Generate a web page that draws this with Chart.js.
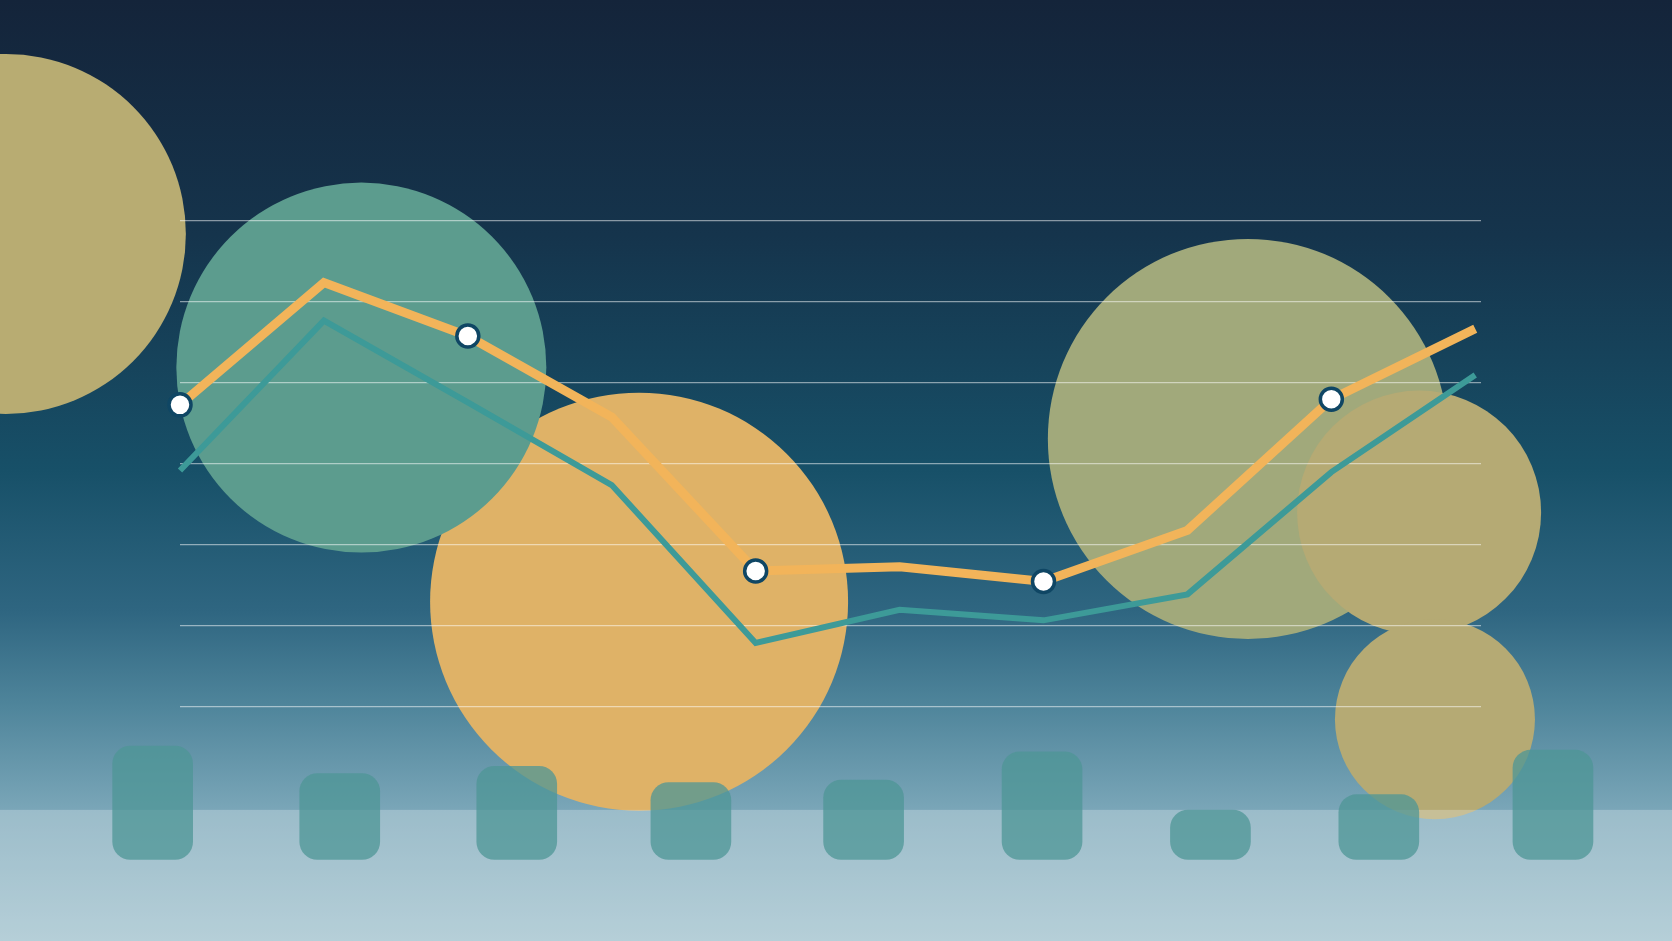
<!DOCTYPE html>
<html lang="en">
<head>
<meta charset="utf-8">
<title>Bubbles, lines and bars</title>
<script src="https://cdn.jsdelivr.net/npm/chart.js@4.4.1/dist/chart.umd.min.js"></script>
<style>
    html, body { margin: 0; padding: 0; overflow: hidden; }
    body {
        width: 1672px;
        height: 941px;
        position: relative;
        background: linear-gradient(to bottom,
            #14243a 0px, #15344c 235px, #175068 470px, #2f6681 612px,
            #4f859b 706px, #7aa6b8 810px, #9dbfcb 941px);
    }
    canvas { position: absolute; left: 0; top: 0; }
</style>
</head>
<body>
<canvas id="chartBubbles" width="1672" height="941"></canvas>
<canvas id="chartLines" width="1672" height="941"></canvas>
<script>
// ============================================
// Data
// ============================================

// Two line series, one value per step (0..9)
const orangeSeries = [37.3, 52.4, 45.8, 35.8, 16.8, 17.3, 15.5, 21.8, 38.0, 46.7];
const tealSeries = [29.2, 47.7, 37.6, 27.4, 7.9, 12.0, 10.7, 13.9, 29.0, 41.0];

// Bars along the bottom (position on the step axis, height)
const barPositions = [-0.19, 1.11, 2.34, 3.55, 4.75, 5.99, 7.16, 8.33, 9.54];
const barValues = [14.0, 10.6, 11.5, 9.5, 9.8, 13.3, 6.1, 8.0, 13.5];

// Background bubbles
const bubbleX = [-1.52, -1.21, 3.19, 1.26, 7.42, 8.61, 8.72];
const bubbleY = [54.3, 58.4, 13.0, 41.9, 33.1, 24.0, -1.5];
const bubbleSize = [163, 180, 209, 185, 200, 122, 100];

// Value where the light lower band starts
const BAND_FROM = -12.7;

// ============================================
// Styles
// ============================================

const COLORS = {
    orange: '#f2b45a',
    teal: '#3d9a98',
    marker: '#ffffff',
    markerBorder: '#0f4664',
    bar: 'rgba(77, 150, 150, 0.75)',
    grid: 'rgba(255, 255, 255, 0.5)',
    band: 'rgba(255, 255, 255, 0.25)',
    bubbles: ['#5b9b8c', '#b8ac72', '#dfb267', '#5c9c8e', '#a1a97b', '#b5aa74', '#b5aa74']
};

// same plot area on both layers, no auto padding so the scales line up
const LAYOUT = {
    autoPadding: false,
    padding: { left: 180, right: 191, top: 221, bottom: 234 }
};

function stepAxis() {
    return { type: 'linear', min: 0, max: 9.04, offset: false, display: false };
}

// ============================================
// Back layer: bubbles + light band
// ============================================

const bandPlugin = {
    id: 'lightBand',
    afterDatasetsDraw(chart) {
        const top = chart.scales.y.getPixelForValue(BAND_FROM);
        const c = chart.ctx;
        c.save();
        c.fillStyle = COLORS.band;
        c.fillRect(0, top, chart.width, chart.height - top);
        c.restore();
    }
};

function createBubbleChart(canvasId) {
    const ctx = document.getElementById(canvasId);
    if (!ctx) return null;

    return new Chart(ctx, {
        type: 'bubble',
        data: {
            datasets: [{
                data: bubbleX.map((x, i) => ({ x: x, y: bubbleY[i], r: bubbleSize[i] })),
                backgroundColor: COLORS.bubbles,
                borderWidth: 0,
                clip: false
            }]
        },
        options: {
            responsive: false,
            animation: false,
            events: [],
            layout: LAYOUT,
            plugins: { legend: { display: false }, tooltip: { enabled: false } },
            scales: {
                x: stepAxis(),
                y: { type: 'linear', min: 0, max: 60, display: false }
            }
        },
        plugins: [bandPlugin]
    });
}

// ============================================
// Front layer: grid, bars and lines
// ============================================

function createLineChart(canvasId) {
    const ctx = document.getElementById(canvasId);
    if (!ctx) return null;

    return new Chart(ctx, {
        type: 'line',
        data: {
            datasets: [
                {
                    label: 'Orange',
                    data: orangeSeries.map((v, i) => ({ x: i, y: v })),
                    borderColor: COLORS.orange,
                    borderWidth: 9,
                    tension: 0,
                    pointRadius: c => (c.dataIndex % 2 === 0 ? 11 : 0),
                    pointBackgroundColor: COLORS.marker,
                    pointBorderColor: COLORS.markerBorder,
                    pointBorderWidth: 3.5,
                    clip: false,
                    order: 0
                },
                {
                    label: 'Teal',
                    data: tealSeries.map((v, i) => ({ x: i, y: v })),
                    borderColor: COLORS.teal,
                    borderWidth: 6,
                    tension: 0,
                    pointRadius: 0,
                    clip: false,
                    order: 1
                },
                {
                    type: 'bar',
                    label: 'Bars',
                    data: barPositions.map((x, i) => ({ x: x, y: barValues[i] })),
                    yAxisID: 'yBar',
                    base: 0,
                    backgroundColor: COLORS.bar,
                    borderWidth: 0,
                    borderRadius: 18,
                    borderSkipped: false,
                    barThickness: 80,
                    clip: false,
                    order: 2
                }
            ]
        },
        options: {
            responsive: false,
            animation: false,
            events: [],
            layout: LAYOUT,
            plugins: { legend: { display: false }, tooltip: { enabled: false } },
            scales: {
                x: stepAxis(),
                y: {
                    type: 'linear',
                    min: 0,
                    max: 60,
                    ticks: { display: false, stepSize: 10 },
                    grid: { color: COLORS.grid, lineWidth: 1.2, drawTicks: false },
                    border: { display: false }
                },
                yBar: {
                    type: 'linear',
                    min: 18.82,
                    max: 78.82,
                    display: false
                }
            }
        }
    });
}

createBubbleChart('chartBubbles');
createLineChart('chartLines');
</script>
</body>
</html>
